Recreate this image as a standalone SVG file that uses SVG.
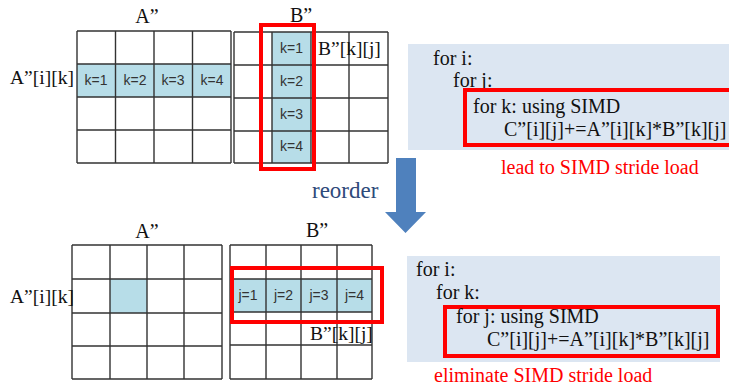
<svg xmlns="http://www.w3.org/2000/svg" width="729" height="388" viewBox="0 0 729 388">
<style>
.g{fill:none;stroke:#333;stroke-width:1.4}
.cell{fill:#b7dde8}
.lab{font-family:"Liberation Sans",Arial,sans-serif;font-size:14px;fill:#333;text-anchor:middle}
.t{font-family:"Liberation Serif","Times New Roman",serif;font-size:20px;fill:#111}
.tl{font-family:"Liberation Serif","Times New Roman",serif;font-size:19.5px;fill:#111}
.red{fill:none;stroke:#ff0000;stroke-width:4}
.box{fill:#dce6f2}
.rt{font-family:"Liberation Serif","Times New Roman",serif;font-size:20px;fill:#ff0000}
</style>
<rect width="729" height="388" fill="#fff"/>

<g id="topA">
<rect class="cell" x="77" y="64" width="154" height="33"/>
<path class="g" d="M77 31H231M77 64H231M77 97H231M77 130H231M77 163H231M77 31V163M115.5 31V163M154 31V163M192.5 31V163M231 31V163"/>
<text class="lab" x="96" y="85">k=1</text>
<text class="lab" x="135" y="85">k=2</text>
<text class="lab" x="173" y="85">k=3</text>
<text class="lab" x="212" y="85">k=4</text>
<text class="t" x="147" y="23" text-anchor="middle">A”</text>
<text class="tl" x="10" y="84">A”[i][k]</text>
</g>

<g id="topB">
<rect class="cell" x="272" y="32" width="39" height="131"/>
<path class="g" d="M234 32H388M234 65H388M234 98H388M234 131H388M234 163H388M234 32V163M272 32V163M311 32V163M349 32V163M388 32V163"/>
<text class="lab" x="291.5" y="53">k=1</text>
<text class="lab" x="291.5" y="86">k=2</text>
<text class="lab" x="291.5" y="119">k=3</text>
<text class="lab" x="291.5" y="151">k=4</text>
<text class="t" x="301" y="22" text-anchor="middle">B”</text>
<text class="tl" x="318" y="55">B”[k][j]</text>
<rect class="red" x="261" y="25" width="53" height="144"/>
</g>

<g id="topCode">
<rect class="box" x="408" y="44" width="330" height="106"/>
<text class="t" x="433" y="65">for i:</text>
<text class="t" x="453" y="87">for j:</text>
<rect class="red" x="465" y="90" width="280" height="55"/>
<text class="t" x="473" y="113">for k: using SIMD</text>
<text class="t" x="504" y="136">C”[i][j]+=A”[i][k]*B”[k][j]</text>
<text class="rt" x="501" y="174">lead to SIMD stride load</text>
</g>

<g id="connectors">
<polygon points="396,158 416,158 416,212 426,212 405.5,233 385,212 396,212" fill="#4f81bd"/>
<text x="312" y="198" font-family="Liberation Serif, Times New Roman, serif" font-size="23" fill="#2e4a7a">reorder</text>
</g>

<g id="bottomA">
<rect class="cell" x="110" y="279" width="37" height="34"/>
<path class="g" d="M72 245H222M72 279H222M72 313H222M72 346H222M72 379H222M72 245V379M110 245V379M147 245V379M184 245V379M222 245V379"/>
<text class="t" x="147" y="238" text-anchor="middle">A”</text>
<text class="tl" x="10" y="303">A”[i][k]</text>
</g>

<g id="bottomB">
<rect class="cell" x="230" y="279" width="142" height="33"/>
<path class="g" d="M230 245H372M230 279H372M230 312H372M230 345H372M230 379H372M230 245V379M266 245V379M301 245V379M337 245V379M372 245V379"/>
<text class="lab" x="248" y="300">j=1</text>
<text class="lab" x="283.5" y="300">j=2</text>
<text class="lab" x="319" y="300">j=3</text>
<text class="lab" x="354.5" y="300">j=4</text>
<text class="t" x="317" y="237" text-anchor="middle">B”</text>
<text class="tl" x="310" y="340">B”[k][j]</text>
<rect class="red" x="232" y="268" width="150" height="54"/>
</g>

<g id="bottomCode">
<rect class="box" x="407" y="256" width="313" height="106"/>
<text class="t" x="416" y="276">for i:</text>
<text class="t" x="436" y="299">for k:</text>
<rect class="red" x="445" y="307" width="273" height="49"/>
<text class="t" x="456" y="323">for j: using SIMD</text>
<text class="t" x="487" y="346">C”[i][j]+=A”[i][k]*B”[k][j]</text>
<text class="rt" x="434" y="382">eliminate SIMD stride load</text>
</g>
</svg>
